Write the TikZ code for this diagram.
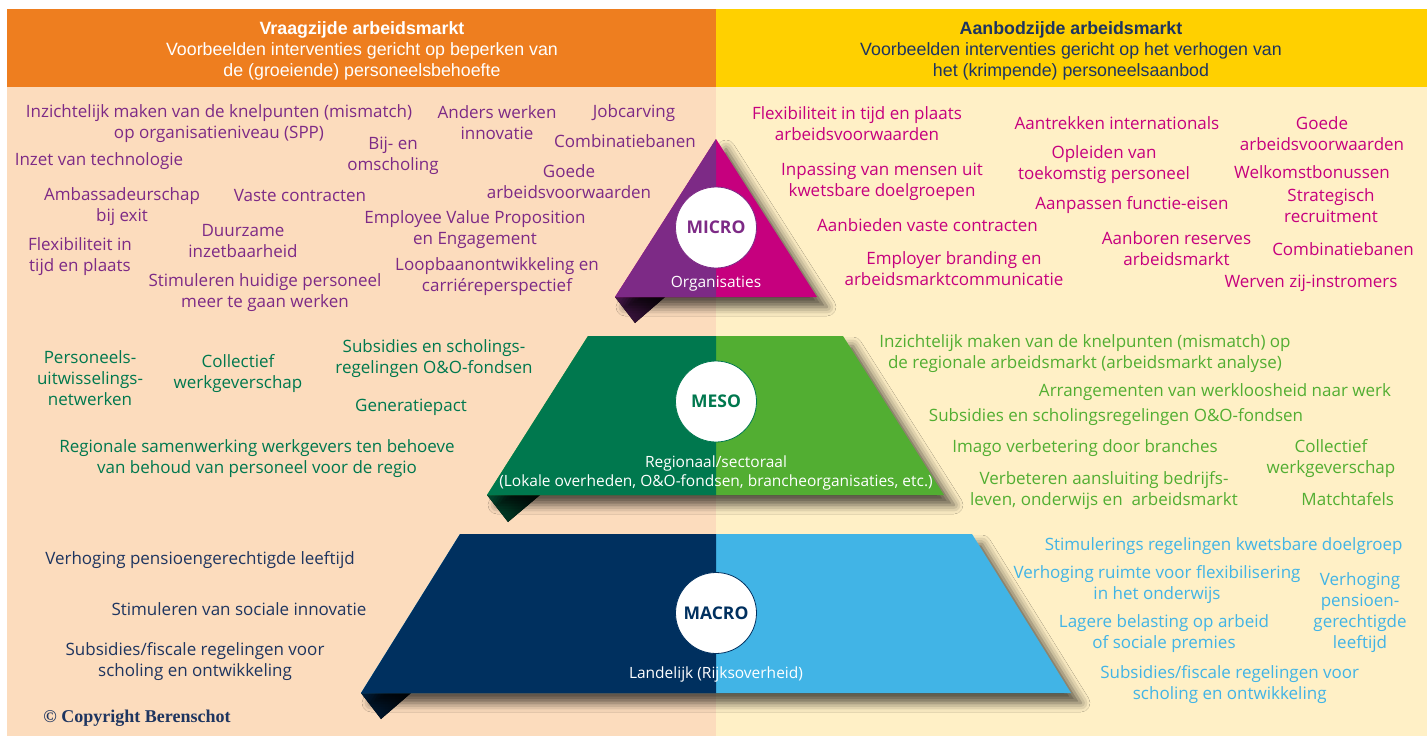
\documentclass[tikz,border=0pt]{standalone}
\usepackage{fontspec}
\setmainfont{Open Sans}
\newfontfamily\headfont{Liberation Sans}
\newfontfamily\copyfont{Liberation Serif}
\usetikzlibrary{shadows.blur}

\definecolor{orangeH}{HTML}{EE7E1F}
\definecolor{yellowH}{HTML}{FFD000}
\definecolor{peach}{HTML}{FCDCBD}
\definecolor{cream}{HTML}{FFF0C6}
\definecolor{headnavy}{HTML}{1D3461}
\definecolor{purpleL}{HTML}{7D2A86}
\definecolor{magentaR}{HTML}{C6007E}
\definecolor{greenD}{HTML}{00784E}
\definecolor{greenL}{HTML}{52AE32}
\definecolor{navy}{HTML}{00305F}
\definecolor{sky}{HTML}{41B4E6}
\definecolor{navytext}{HTML}{1E3560}

\newcommand{\bodysize}{\fontsize{17}{21}\selectfont}
\newcommand{\labsize}{\fontsize{15.5}{19}\selectfont}

\begin{document}
\begin{tikzpicture}[x=1pt,y=-1pt,
  txt/.style={align=center, inner sep=0pt, font=\bodysize, yshift=-2pt},
  ltxt/.style={txt, text=purpleL},
  rtxt/.style={txt, text=magentaR},
  gdtxt/.style={txt, text=greenD},
  gltxt/.style={txt, text=greenL},
  ntxt/.style={txt, text=navytext},
  stxt/.style={txt, text=sky},
  header/.style={align=center, inner sep=0pt, font=\headfont\fontsize{17.8}{21}\selectfont},
  levelshadow/.style={blur shadow={shadow xshift=10pt, shadow yshift=-10pt,
      shadow blur radius=9pt, shadow opacity=65}},
  badge/.style={circle, fill=white, draw=#1, line width=0.8pt, minimum size=81pt,
      inner sep=0pt, text=#1, font=\fontsize{17.5}{20}\selectfont\bfseries},
  shapelabel/.style={align=center, inner sep=0pt, text=white, font=\labsize, yshift=-1.5pt}
]
\useasboundingbox (0,0) rectangle (1427,736);

% page background: demand side (left) and supply side (right)
\fill[white] (0,0) rectangle (1427,736);
\fill[peach] (7,87) rectangle (716,736);
\fill[cream] (716,87) rectangle (1427,736);
\fill[orangeH] (7,9) rectangle (716,87);
\fill[yellowH] (716,9) rectangle (1427,87);

\node[header, text=white] (vraag) at (362,50.5)
  {{\bfseries Vraagzijde arbeidsmarkt}\\Voorbeelden interventies gericht op beperken van\\de (groeiende) personeelsbehoefte};
\node[header, text=headnavy] (aanbod) at (1071,50.5)
  {{\bfseries Aanbodzijde arbeidsmarkt}\\Voorbeelden interventies gericht op het verhogen van\\het (krimpende) personeelsaanbod};

% ---- MICRO level: triangle ----
\fill[left color=purpleL!55!black, right color=purpleL!15!black]
  (615,297) -- (665,297) -- (635,323) -- cycle;
\path[levelshadow, fill=magentaR] (716,139) -- (817,297) -- (615,297) -- cycle;
\fill[purpleL] (716,139) -- (716,297) -- (615,297) -- cycle;
\node[badge=purpleL] (micro) at (716,227.5) {MICRO};
\node[shapelabel] (microlab) at (716,282) {Organisaties};

% ---- MESO level: trapezoid ----
\fill[left color=greenD!60!black, right color=greenD!15!black]
  (487,495) -- (540,495) -- (508,522) -- cycle;
\path[levelshadow, fill=greenL] (588,336) -- (843,336) -- (944,495) -- (487,495) -- cycle;
\fill[greenD] (588,336) -- (716,336) -- (716,495) -- (487,495) -- cycle;
\node[badge=greenD] (meso) at (716,401.5) {MESO};
\node[shapelabel] (mesolab) at (716,471.2)
  {Regionaal/sectoraal\\(Lokale overheden, O\&O-fondsen, brancheorganisaties, etc.)};

% ---- MACRO level: trapezoid ----
\fill[left color=navy!60!black, right color=navy!15!black]
  (361,693) -- (411,693) -- (381,719) -- cycle;
\path[levelshadow, fill=sky] (460,534) -- (972,534) -- (1071,693) -- (361,693) -- cycle;
\fill[navy] (460,534) -- (716,534) -- (716,693) -- (361,693) -- cycle;
\node[badge=navy] (macro) at (716,613) {MACRO};
\node[shapelabel] (macrolab) at (716,673) {Landelijk (Rijksoverheid)};

% ---- demand side, micro ----
\node[ltxt] (l1) at (219,121.7) {Inzichtelijk maken van de knelpunten (mismatch)\\op organisatieniveau (SPP)};
\node[ltxt] (l2) at (497,120.7) {Anders werken\\innovatie};
\node[ltxt] (l3) at (634,110.7) {Jobcarving};
\node[ltxt] (l4) at (625,139.3) {Combinatiebanen};
\node[ltxt] (l5) at (99,159.3) {Inzet van technologie};
\node[ltxt] (l6) at (393,154) {Bij- en\\omscholing};
\node[ltxt] (l7) at (569,179.7) {Goede\\arbeidsvoorwaarden};
\node[ltxt] (l8) at (122,204.5) {Ambassadeurschap\\bij exit};
\node[ltxt] (l9) at (300,194) {Vaste contracten};
\node[ltxt] (l10) at (243,238.7) {Duurzame\\inzetbaarheid};
\node[ltxt] (l11) at (475,227.5) {Employee Value Proposition\\en Engagement};
\node[ltxt] (l12) at (80,254.5) {Flexibiliteit in\\tijd en plaats};
\node[ltxt] (l13) at (497,274.5) {Loopbaanontwikkeling en\\carriéreperspectief};
\node[ltxt] (l14) at (265,291) {Stimuleren huidige personeel\\meer te gaan werken};

% ---- supply side, micro ----
\node[rtxt] (r1) at (857,121.2) {Flexibiliteit in tijd en plaats\\arbeidsvoorwaarden};
\node[rtxt] (r2) at (1117,120.7) {Aantrekken internationals};
\node[rtxt] (r3) at (1322,131.2) {Goede\\arbeidsvoorwaarden};
\node[rtxt] (r4) at (1104,162.8) {Opleiden van\\toekomstig personeel};
\node[rtxt] (r5) at (882,180) {Inpassing van mensen uit\\kwetsbare doelgroepen};
\node[rtxt] (r6) at (1312,170) {Welkomstbonussen};
\node[rtxt] (r7) at (1331,203.7) {Strategisch\\recruitment};
\node[rtxt] (r8) at (1132,203.3) {Aanpassen functie-eisen};
\node[rtxt] (r9) at (927.5,223.3) {Aanbieden vaste contracten};
\node[rtxt] (r10) at (1176.5,246.7) {Aanboren reserves\\arbeidsmarkt};
\node[rtxt] (r11) at (1343,246.7) {Combinatiebanen};
\node[rtxt] (r12) at (954,266.2) {Employer branding en\\arbeidsmarktcommunicatie};
\node[rtxt] (r13) at (1311,281.7) {Werven zij-instromers};

% ---- demand side, meso ----
\node[gdtxt] (gd1) at (90,376.5) {Personeels-\\uitwisselings-\\netwerken};
\node[gdtxt] (gd2) at (238,371.3) {Collectief\\werkgeverschap};
\node[gdtxt] (gd3) at (434,356.7) {Subsidies en scholings-\\regelingen O\&O-fondsen};
\node[gdtxt] (gd4) at (411,405) {Generatiepact};
\node[gdtxt] (gd5) at (257,456.7) {Regionale samenwerking werkgevers ten behoeve\\van behoud van personeel voor de regio};

% ---- supply side, meso ----
\node[gltxt] (gl1) at (1085,351.2) {Inzichtelijk maken van de knelpunten (mismatch) op\\de regionale arbeidsmarkt (arbeidsmarkt analyse)};
\node[gltxt] (gl2) at (1215,390) {Arrangementen van werkloosheid naar werk};
\node[gltxt] (gl3) at (1116,415) {Subsidies en scholingsregelingen O\&O-fondsen};
\node[gltxt] (gl4) at (1085,446) {Imago verbetering door branches};
\node[gltxt] (gl5) at (1331,456.3) {Collectief\\werkgeverschap};
\node[gltxt] (gl6) at (1104,488.8) {Verbeteren aansluiting bedrijfs-\\leven, onderwijs en\ \ arbeidsmarkt};
\node[gltxt] (gl7) at (1347.7,496.7) {Matchtafels};

% ---- demand side, macro ----
\node[ntxt] (n1) at (200,558) {Verhoging pensioengerechtigde leeftijd};
\node[ntxt] (n2) at (239,607) {Stimuleren van sociale innovatie};
\node[ntxt] (n3) at (195,659.5) {Subsidies/fiscale regelingen voor\\scholing en ontwikkeling};

% ---- supply side, macro ----
\node[stxt] (s1) at (1223.7,544) {Stimulerings regelingen kwetsbare doelgroep};
\node[stxt] (s2) at (1157,583) {Verhoging ruimte voor flexibilisering\\in het onderwijs};
\node[stxt] (s3) at (1360,611) {Verhoging\\pensioen-\\gerechtigde\\leeftijd};
\node[stxt] (s4) at (1164,632) {Lagere belasting op arbeid\\of sociale premies};
\node[stxt] (s5) at (1229.7,683) {Subsidies/fiscale regelingen voor\\scholing en ontwikkeling};

\node[inner sep=0pt, text=navytext, font=\copyfont\bfseries\fontsize{18}{20}\selectfont] (copy) at (137,718) {© Copyright Berenschot};
\end{tikzpicture}
\end{document}
